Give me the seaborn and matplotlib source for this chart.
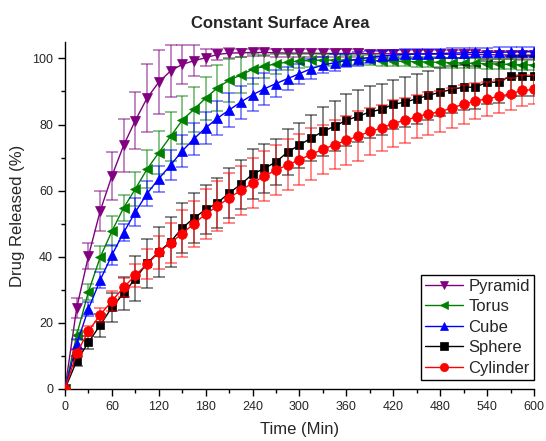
import numpy as np
import pandas as pd
import matplotlib
matplotlib.use("Agg")
import matplotlib.pyplot as plt
from matplotlib.ticker import MultipleLocator
from matplotlib.lines import Line2D
import seaborn as sns

time = list(range(0, 601, 15))

pyramid = [0, 24.5, 40.2, 53.8, 64.4, 73.7, 81.2, 88.0, 92.8, 96.2, 98.2, 99.3, 100.2,
           101.2, 101.6, 101.7, 101.8, 101.8, 101.7, 101.6, 101.6, 101.6, 101.5, 101.5,
           101.5, 101.5, 101.4, 101.4, 101.4, 101.4, 101.4, 101.3, 101.3, 101.2, 101.2,
           101.2, 101.1, 101.1, 101.0, 101.0, 101.0]
pyramid_err = [0, 3.0, 4.0, 6.0, 7.3, 8.0, 8.7, 10.3, 9.6, 7.8, 6.0, 4.7, 2.5, 1.8,
               1.5, 1.3, 1.2, 1.2, 1.2, 1.2, 1.2, 1.2, 1.2, 1.2, 1.2, 1.2, 1.2, 1.2,
               1.2, 1.2, 1.2, 1.2, 1.2, 1.2, 1.2, 1.2, 1.2, 1.2, 1.2, 1.2, 1.2]

torus = [0, 16.3, 29.4, 39.8, 47.7, 54.8, 60.5, 66.5, 71.5, 76.4, 81.3, 84.6, 88.0,
         91.1, 93.4, 95.0, 96.7, 97.6, 98.4, 98.9, 99.2, 99.4, 99.5, 99.5, 99.5, 99.5,
         99.4, 99.3, 99.2, 99.1, 99.0, 98.9, 98.8, 98.7, 98.6, 98.5, 98.4, 98.3, 98.2,
         98.1, 98.0]
torus_err = [0, 1.5, 2.5, 3.5, 4.5, 4.0, 5.0, 5.7, 6.5, 7.4, 7.3, 6.8, 6.5, 7.0, 6.5,
             5.5, 4.5, 3.5, 3.0, 2.5, 2.0, 2.0, 1.8, 1.8, 1.6, 1.6, 1.5, 1.5, 1.5, 1.5,
             1.5, 1.5, 1.5, 1.5, 1.5, 1.5, 1.5, 1.5, 1.5, 1.5, 1.5]

cube = [0, 13.6, 24.2, 32.9, 40.5, 47.3, 53.5, 59.1, 63.6, 67.7, 72.0, 75.7, 79.0,
        81.9, 84.4, 86.8, 89.0, 90.8, 92.4, 93.9, 95.4, 96.9, 98.0, 98.7, 99.3, 99.8,
        100.3, 100.7, 101.0, 101.2, 101.3, 101.4, 101.5, 101.6, 101.7, 101.8, 101.8,
        101.9, 101.9, 102.0, 102.0]
cube_err = [0, 1.5, 2.0, 2.5, 3.0, 2.5, 4.3, 3.8, 4.0, 4.5, 4.8, 4.8, 4.8, 5.2, 5.0,
            5.0, 5.0, 4.8, 4.0, 3.5, 3.0, 3.0, 2.5, 2.5, 2.0, 2.0, 1.8, 1.6, 1.5, 1.5,
            1.5, 1.5, 1.5, 1.5, 1.5, 1.5, 1.5, 1.5, 1.5, 1.5, 1.5]

sphere = [0, 8.5, 14.1, 19.3, 24.7, 28.9, 33.4, 38.0, 41.5, 44.5, 48.7, 51.7, 54.3,
          56.3, 59.3, 61.9, 65.0, 66.7, 68.7, 71.7, 73.8, 75.9, 77.9, 79.5, 81.3, 82.5,
          83.8, 84.6, 86.1, 86.8, 87.8, 88.8, 89.8, 90.6, 91.3, 91.3, 92.8, 92.8, 94.7,
          94.6, 94.6]
sphere_err = [0, 1.5, 2.0, 3.5, 4.4, 5.0, 6.8, 7.4, 7.5, 7.5, 7.5, 7.5, 7.5, 7.5, 7.5,
              7.5, 7.5, 7.5, 7.0, 7.0, 6.8, 7.0, 7.5, 7.5, 7.8, 7.8, 7.8, 7.8, 7.5, 7.5,
              7.5, 7.5, 7.2, 7.0, 6.8, 6.5, 6.5, 6.2, 6.0, 6.0, 6.0]

cylinder = [0, 10.8, 17.5, 22.4, 26.6, 30.7, 34.4, 37.8, 41.3, 44.2, 47.0, 50.0, 52.9,
            55.3, 57.8, 60.1, 62.3, 64.4, 66.2, 67.8, 69.3, 71.0, 72.5, 73.9, 75.2, 76.5,
            77.9, 78.9, 80.3, 81.3, 82.3, 83.3, 83.8, 85.1, 86.1, 87.1, 87.8, 88.5, 89.3,
            90.3, 90.6]
cylinder_err = [0, 1.0, 1.5, 2.0, 3.0, 3.0, 3.5, 4.5, 5.0, 6.0, 7.0, 7.0, 7.5, 7.5, 7.5,
                7.5, 7.5, 7.5, 7.5, 7.7, 7.7, 7.8, 7.5, 7.5, 7.5, 7.5, 7.2, 7.0, 7.0, 6.8,
                6.5, 6.5, 6.2, 6.0, 5.8, 5.5, 5.2, 5.0, 4.8, 4.6, 4.4]

names = ["Pyramid", "Torus", "Cube", "Sphere", "Cylinder"]
values = [pyramid, torus, cube, sphere, cylinder]
errors = [pyramid_err, torus_err, cube_err, sphere_err, cylinder_err]
colors = ["#800080", "#008000", "#0000FF", "#000000", "#FF0000"]
markers = ["v", "<", "^", "s", "o"]
msizes = [7.2, 7.2, 7.2, 6.0, 7.0]

sns.set_theme(style="ticks")
plt.rcParams["font.family"] = ["Liberation Sans", "DejaVu Sans"]

fig = plt.figure(figsize=(5.46, 4.41), dpi=100)
ax = fig.add_axes([0.119, 0.118, 0.859, 0.787])

handles = []
for i, (nm, v, e, c, m, s) in enumerate(zip(names, values, errors, colors, markers, msizes)):
    df = pd.DataFrame({"Time": time, "Value": v})
    ax.errorbar(time, v, yerr=e, fmt="none", ecolor=c, alpha=0.55, elinewidth=1.2,
                capsize=4, capthick=1.2, zorder=2 + i)
    sns.lineplot(data=df, x="Time", y="Value", ax=ax, color=c, marker=m, markersize=s,
                 markeredgecolor=c, markeredgewidth=0.5, linewidth=1, zorder=3 + i,
                 legend=False)
    handles.append(Line2D([0], [0], color=c, lw=1, marker=m, markersize=s * 0.85,
                          markeredgecolor=c, markeredgewidth=0.5, label=nm))

ax.set_xlim(0, 600)
ax.set_ylim(0, 105)
ax.xaxis.set_major_locator(MultipleLocator(60))
ax.xaxis.set_minor_locator(MultipleLocator(30))
ax.yaxis.set_major_locator(MultipleLocator(20))
ax.yaxis.set_minor_locator(MultipleLocator(10))
ax.tick_params(which="major", direction="out", length=5, width=1, labelsize=9, color="black")
ax.tick_params(which="minor", direction="out", length=3, width=1, color="black")
sns.despine(ax=ax)
for sp in ["left", "bottom"]:
    ax.spines[sp].set_color("black")
    ax.spines[sp].set_linewidth(1)

ax.set_xlabel("Time (Min)", fontsize=12, labelpad=7)
ax.set_ylabel("Drug Released (%)", fontsize=12, labelpad=5)
fig.text(0.513, 0.946, "Constant Surface Area", fontsize=12, fontweight="bold",
         ha="center", va="center")

leg = ax.legend(handles=handles, loc="lower right", fontsize=12, frameon=True,
                fancybox=False, edgecolor="black", framealpha=1, handlelength=2.3,
                labelspacing=0.33, borderpad=0.25, handletextpad=0.3,
                borderaxespad=0, bbox_to_anchor=(1.0, 0.026))
leg.get_frame().set_linewidth(1)

fig.savefig("out.png", dpi=100)
